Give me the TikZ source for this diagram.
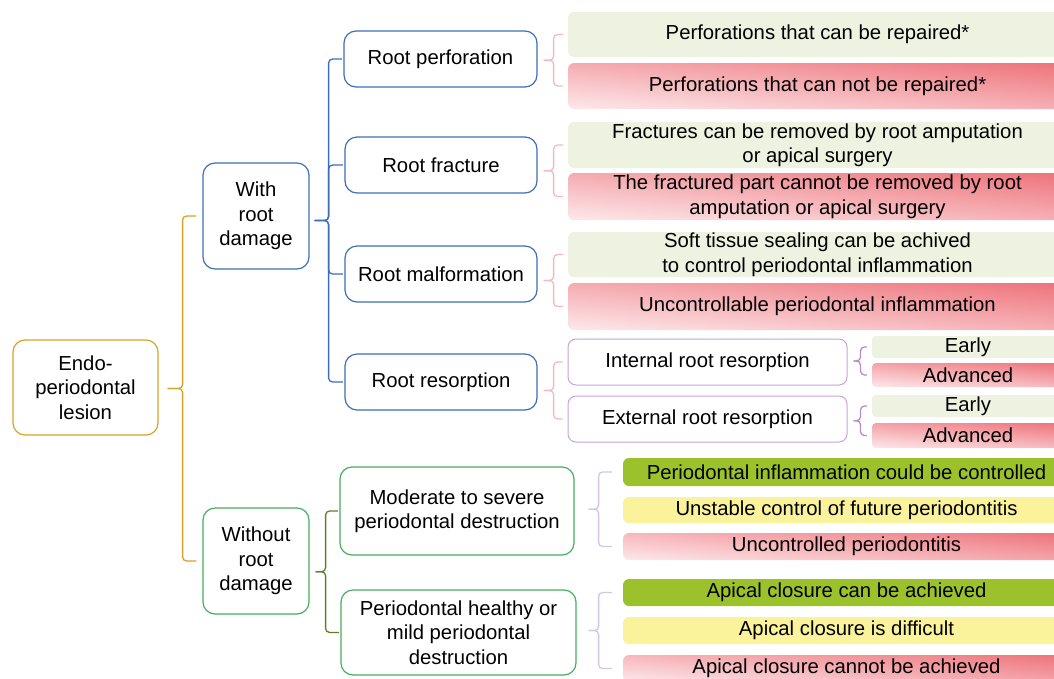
\documentclass[tikz,border=0pt]{standalone}
\usepackage{fontspec}
\setmainfont{Liberation Sans}
\usetikzlibrary{calc}
\definecolor{goldc}{HTML}{D9A227}
\definecolor{bluec}{HTML}{3C6FB6}
\definecolor{greenc}{HTML}{45AF5F}
\definecolor{olivec}{HTML}{5F7F2C}
\definecolor{pinkb}{HTML}{F5B7C1}
\definecolor{purpb}{HTML}{C9A3D8}
\definecolor{purpd}{HTML}{B98BCB}
\definecolor{lavb}{HTML}{D3C6E4}
\definecolor{lgreen}{HTML}{EEF2E1}
\definecolor{bgreen}{HTML}{9CC22B}
\definecolor{yelc}{HTML}{FBF29C}
\definecolor{redD}{HTML}{EE777E}
\definecolor{redL}{HTML}{FCE4E7}
\begin{document}
\begin{tikzpicture}[x=1pt,y=-1pt,
  txt/.style={font=\fontsize{20.3}{24.5}\selectfont, align=center, inner sep=0pt, text=black},
  cat/.style={txt, draw, line width=1.2pt, rounded corners=12pt, fill=white},
  outb/.style={txt, rectangle, rounded corners=6pt},
  okbox/.style={outb, fill=lgreen},
  badbox/.style={outb, top color=redD, bottom color=redL, shading angle=-5},
  gbox/.style={outb, fill=bgreen},
  ybox/.style={outb, fill=yelc},
  brk/.style={line width=1.3pt, rounded corners=4pt}
]
\useasboundingbox (0,0) rectangle (1054,678);
\clip (0,0) rectangle (1054,678);

% level 0 and 1
\node[cat, draw=goldc, minimum width=145, minimum height=95] (ep) at (85.5,387.5) {Endo-\\periodontal\\lesion};
\node[cat, draw=bluec, minimum width=106, minimum height=106] (wrd) at (256,216) {With\\root\\damage};
\node[cat, draw=greenc, minimum width=106, minimum height=106] (wo) at (256,561) {Without\\root\\damage};

% level 2
\node[cat, draw=bluec, minimum width=193, minimum height=56] (rp) at (440.5,59) {Root perforation};
\node[cat, draw=bluec, minimum width=192, minimum height=56] (rf) at (441,165) {Root fracture};
\node[cat, draw=bluec, minimum width=192, minimum height=56] (rm) at (441,274) {Root malformation};
\node[cat, draw=bluec, minimum width=192, minimum height=56] (rr) at (441,382) {Root resorption};
\node[cat, draw=greenc, minimum width=234, minimum height=88] (mod) at (457,511) {Moderate to severe\\periodontal destruction};
\node[cat, draw=greenc, minimum width=235, minimum height=85] (hea) at (458.5,632.5) {Periodontal healthy or\\mild periodontal\\destruction};

% outcomes of root damage
\node[okbox, minimum width=499, minimum height=45] (o1) at (817.5,34.5) {Perforations that can be repaired*};
\node[badbox, minimum width=499, minimum height=46] (o2) at (817.5,86) {Perforations that can not be repaired*};
\node[okbox, minimum width=499, minimum height=46] (o3) at (817.5,145) {Fractures can be removed by root amputation\\or apical surgery};
\node[badbox, minimum width=499, minimum height=47] (o4) at (817.5,196.5) {The fractured part cannot be removed by root\\amputation or apical surgery};
\node[okbox, minimum width=499, minimum height=45] (o5) at (817.5,254.5) {Soft tissue sealing can be achived\\to control periodontal inflammation};
\node[badbox, minimum width=499, minimum height=47] (o6) at (817.5,306.5) {Uncontrollable periodontal inflammation};

\node[cat, draw=purpb, rounded corners=8pt, line width=1pt, minimum width=279, minimum height=46] (ir) at (707.5,362) {Internal root resorption};
\node[cat, draw=purpb, rounded corners=8pt, line width=1pt, minimum width=279, minimum height=46] (er) at (707.5,419) {External root resorption};

\node[okbox, rounded corners=4pt, minimum width=192, minimum height=22] (e1) at (968,347) {Early};
\node[badbox, rounded corners=4pt, minimum width=192, minimum height=24] (a1) at (968,375) {Advanced};
\node[okbox, rounded corners=4pt, minimum width=192, minimum height=22] (e2) at (968,406) {Early};
\node[badbox, rounded corners=4pt, minimum width=192, minimum height=25] (a2) at (968,435.5) {Advanced};

% outcomes without root damage
\node[gbox, minimum width=447, minimum height=28] (g1) at (846.5,472) {Periodontal inflammation could be controlled};
\node[ybox, minimum width=447, minimum height=26] (g2) at (846.5,510) {Unstable control of future periodontitis};
\node[badbox, minimum width=447, minimum height=27] (g3) at (846.5,546.5) {Uncontrolled periodontitis};
\node[gbox, minimum width=447, minimum height=27] (g4) at (846.5,592.5) {Apical closure can be achieved};
\node[ybox, minimum width=447, minimum height=27] (g5) at (846.5,630.5) {Apical closure is difficult};
\node[badbox, minimum width=447, minimum height=27] (g6) at (846.5,668.5) {Apical closure cannot be achieved};

% braces: parent, first child, last child, children with an arm, left gap, tick width, right gap, colour
\foreach \p/\ca/\cb/\kids/\gl/\w/\gr/\col in {
  ep/wrd/wo/{wrd,wo}/9/15/6/goldc,
  wrd/rp/rr/{rp,rf,rm,rr}/5/14/1.5/bluec,
  wo/mod/hea/{mod,hea}/6/10/1.5/olivec,
  rp/o1/o2/{o1,o2}/6/10/5/pinkb,
  rf/o3/o4/{o3,o4}/6/10/5/pinkb,
  rm/o5/o6/{o5,o6}/6/10/5/pinkb,
  rr/ir/er/{ir,er}/6/10/5/pinkb,
  ir/e1/a1/{e1,a1}/6/7/5/purpd,
  er/e2/a2/{e2,a2}/6/7/5/purpd,
  mod/g1/g3/{g1,g3}/14/10/11/lavb,
  hea/g4/g6/{g4,g6}/12/10/11/lavb}{
  \coordinate (m-\p) at ($(\ca.west)!.5!(\cb.west)$);
  \coordinate (s-\p) at ([xshift=\gl]\p.east);
  \foreach \c in \kids {
    \draw[brk, draw=\col] (s-\p |- m-\p) -- ++(\w,0) |- ([xshift=-\gr]\c.west);
  }
}
\end{tikzpicture}
\end{document}
